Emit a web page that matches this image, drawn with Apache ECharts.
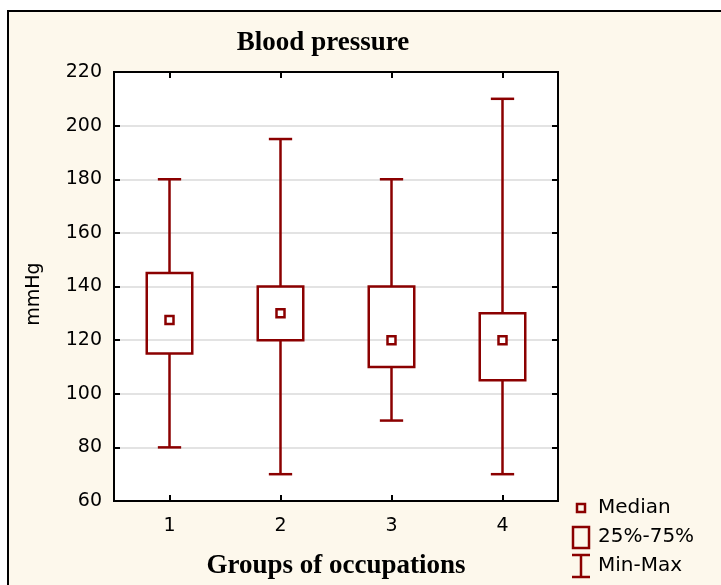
<!DOCTYPE html>
<html>
<head>
<meta charset="utf-8">
<script src="https://cdn.jsdelivr.net/npm/echarts@6/dist/echarts.min.js"></script>
<style>html,body{margin:0;padding:0;background:#fff;}#c{width:721px;height:585px;}</style>
</head>
<body>
<div id="c"></div>
<script>
const categories = ['1', '2', '3', '4'];
const mins = [80, 70, 90, 70];
const q1s = [115, 120, 110, 105];
const medians = [127.5, 130, 120, 120];
const q3s = [145, 140, 140, 130];
const maxs = [180, 195, 180, 210];
const yTicks = [60, 80, 100, 120, 140, 160, 180, 200, 220];

const RED = '#8b0000';
const FONT = 'DejaVu Sans';
const LW = 2.5;

const boxData = categories.map((c, i) => [i, mins[i], q1s[i], medians[i], q3s[i], maxs[i]]);

function renderItem(params, api) {
  const x = api.value(0);
  const lo = api.coord([x, api.value(1)]);
  const q1 = api.coord([x, api.value(2)]);
  const med = api.coord([x, api.value(3)]);
  const q3 = api.coord([x, api.value(4)]);
  const hi = api.coord([x, api.value(5)]);
  const bw = api.size([1, 0])[0];
  const boxW = bw * 0.41, capW = bw * 0.21, ms = 8;
  const cx = lo[0];
  const st = { stroke: RED, lineWidth: LW, fill: null };
  return {
    type: 'group',
    children: [
      { type: 'line', shape: { x1: cx, y1: hi[1], x2: cx, y2: q3[1] }, style: st },
      { type: 'line', shape: { x1: cx, y1: q1[1], x2: cx, y2: lo[1] }, style: st },
      { type: 'line', shape: { x1: cx - capW / 2, y1: hi[1], x2: cx + capW / 2, y2: hi[1] }, style: st },
      { type: 'line', shape: { x1: cx - capW / 2, y1: lo[1], x2: cx + capW / 2, y2: lo[1] }, style: st },
      { type: 'rect', shape: { x: cx - boxW / 2, y: q3[1], width: boxW, height: q1[1] - q3[1] }, style: { stroke: RED, lineWidth: LW, fill: 'rgba(0,0,0,0)' } },
      { type: 'rect', shape: { x: cx - ms / 2, y: med[1] - ms / 2, width: ms, height: ms }, style: { stroke: RED, lineWidth: LW, fill: '#fff' } }
    ]
  };
}

const chart = echarts.init(document.getElementById('c'), null, { renderer: 'canvas' });
const tickStyle = { show: true, inside: true, length: 6, lineStyle: { color: '#000', width: 2 } };
chart.setOption({
  backgroundColor: '#fff',
  animation: false,
  grid: { left: 114, top: 72, width: 444, height: 429, show: true, backgroundColor: '#fff', borderColor: '#000', borderWidth: 2 },
  xAxis: [
    {
      type: 'category', data: categories, position: 'bottom',
      axisLine: { show: true, lineStyle: { color: '#000', width: 2 } },
      axisTick: Object.assign({ alignWithLabel: true }, tickStyle),
      axisLabel: { color: '#000', fontFamily: FONT, fontSize: 19, margin: 16 },
      name: 'Groups of occupations', nameLocation: 'middle', nameGap: 52,
      nameTextStyle: { fontFamily: 'Liberation Serif', fontWeight: 'bold', fontSize: 27, color: '#000' },
      splitLine: { show: false }
    },
    {
      type: 'category', data: categories, position: 'top',
      axisLine: { show: true, lineStyle: { color: '#000', width: 2 } },
      axisTick: Object.assign({ alignWithLabel: true }, tickStyle),
      axisLabel: { show: false }
    }
  ],
  yAxis: [
    {
      type: 'value', min: yTicks[0], max: yTicks[yTicks.length - 1], interval: 20,
      axisLine: { show: true, lineStyle: { color: '#000', width: 2 } },
      axisTick: tickStyle,
      axisLabel: { color: '#000', fontFamily: FONT, fontSize: 19, margin: 12 },
      splitLine: { show: true, lineStyle: { color: '#e3e3e3', width: 2 } }
    },
    {
      type: 'value', min: yTicks[0], max: yTicks[yTicks.length - 1], interval: 20, position: 'right',
      axisLine: { show: true, lineStyle: { color: '#000', width: 2 } },
      axisTick: tickStyle,
      axisLabel: { show: false },
      splitLine: { show: false }
    }
  ],
  graphic: [
    { type: 'rect', z: -100, shape: { x: 8, y: 11, width: 800, height: 700 }, style: { fill: '#fdf8ec', stroke: '#000', lineWidth: 2 } },
    { type: 'text', z: 10, x: 323, y: 43, style: { text: 'Blood pressure', fontFamily: 'Liberation Serif', fontWeight: 'bold', fontSize: 27, fill: '#000', align: 'center', verticalAlign: 'middle' } },
    { type: 'text', z: 10, x: 34, y: 294, rotation: Math.PI / 2, style: { text: 'mmHg', fontFamily: FONT, fontSize: 19, fill: '#000', align: 'center', verticalAlign: 'middle' } },
    { type: 'rect', z: 10, shape: { x: 577, y: 504, width: 8, height: 8 }, style: { stroke: RED, lineWidth: LW, fill: '#fdf8ec' } },
    { type: 'text', z: 10, x: 598, y: 508, style: { text: 'Median', fontFamily: FONT, fontSize: 20, fill: '#000', verticalAlign: 'middle' } },
    { type: 'rect', z: 10, shape: { x: 573, y: 527, width: 16, height: 21 }, style: { stroke: RED, lineWidth: LW, fill: '#fdf8ec' } },
    { type: 'text', z: 10, x: 598, y: 537, style: { text: '25%-75%', fontFamily: FONT, fontSize: 20, fill: '#000', verticalAlign: 'middle' } },
    { type: 'line', z: 10, shape: { x1: 572, y1: 555, x2: 590, y2: 555 }, style: { stroke: RED, lineWidth: LW } },
    { type: 'line', z: 10, shape: { x1: 581, y1: 555, x2: 581, y2: 577 }, style: { stroke: RED, lineWidth: LW } },
    { type: 'line', z: 10, shape: { x1: 572, y1: 577, x2: 590, y2: 577 }, style: { stroke: RED, lineWidth: LW } },
    { type: 'text', z: 10, x: 598, y: 566, style: { text: 'Min-Max', fontFamily: FONT, fontSize: 20, fill: '#000', verticalAlign: 'middle' } }
  ],
  series: [
    {
      type: 'custom', xAxisIndex: 0, yAxisIndex: 0, z: 5,
      renderItem: renderItem,
      encode: { x: 0, y: [1, 2, 3, 4, 5] },
      data: boxData
    }
  ]
});
</script>
</body>
</html>
